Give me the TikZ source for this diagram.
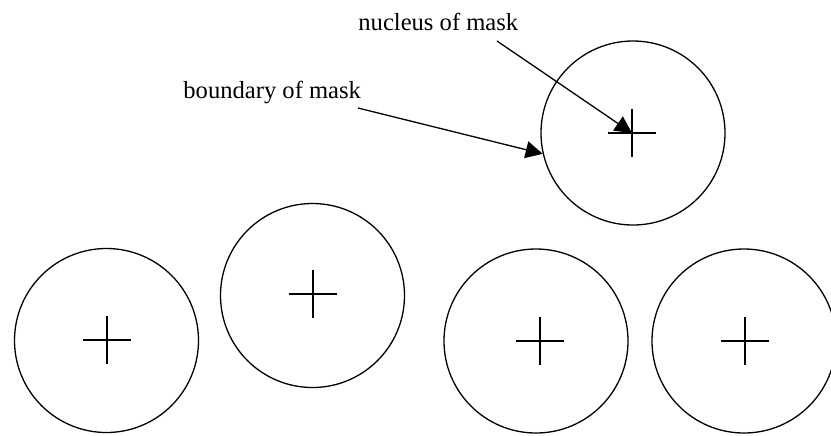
\documentclass[tikz,border=0pt]{standalone}
\usepackage{fontspec}
\setmainfont{Liberation Serif}
\usetikzlibrary{arrows.meta}

\begin{document}
\begin{tikzpicture}[x=0.5pt, y=-0.5pt,
  mask/.style={circle, draw=black, line width=0.65pt, inner sep=0pt, minimum size=92pt},
  pointer/.style={draw=black, line width=0.65pt, -{Triangle[length=8.5pt, width=8.5pt]}},
  caption/.style={anchor=base west, inner sep=0pt, font=\fontsize{12.3}{14}\selectfont}
]
\useasboundingbox (0,0) rectangle (831,435);
\clip (0,0) rectangle (831,435);

% Masks (boundary circles)
\node[mask] (M0) at (633,133) {};
\node[mask] (M1) at (106.5,340.5) {};
\node[mask] (M2) at (312.5,295.5) {};
\node[mask] (M3) at (536,341) {};
\node[mask] (M4) at (744,341) {};

% Nuclei
\coordinate (N0) at (632,133);
\coordinate (N1) at (107,340);
\coordinate (N2) at (313,294);
\coordinate (N3) at (540,341);
\coordinate (N4) at (745,341);

\foreach \n in {N0,N1,N2,N3,N4}
  \draw[line width=0.65pt] (\n) +(-24,0) -- +(24,0) (\n) +(0,-24) -- +(0,24);

% Labels
\node[caption] (Lnuc) at (358,30) {nucleus of mask};
\node[caption] (Lbnd) at (183,98) {boundary of mask};

\coordinate (Snuc) at (497,41);
\coordinate (Sbnd) at (358,108);

% ---- Arrows ----
\draw[pointer] (Snuc) -- (N0);
\draw[pointer] (Sbnd) -- (M0.193);

\end{tikzpicture}
\end{document}
